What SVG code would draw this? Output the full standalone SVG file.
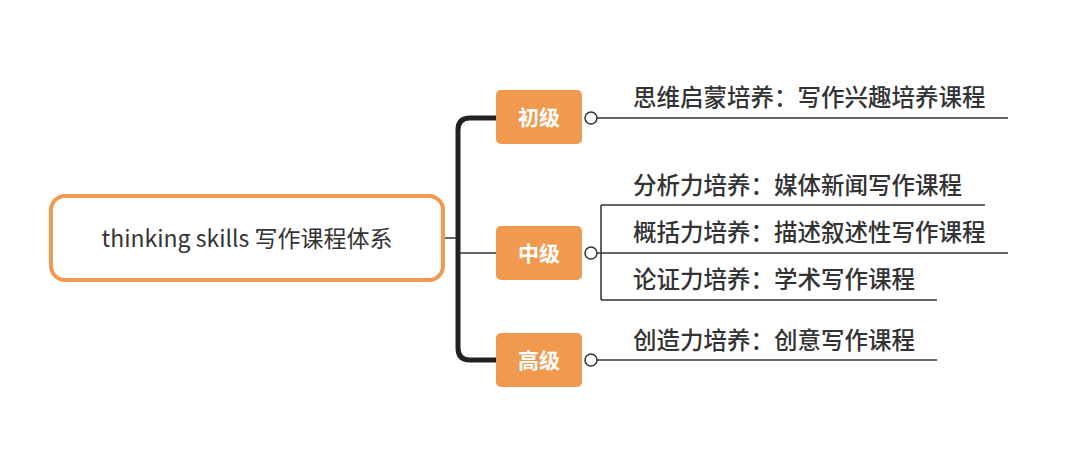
<svg xmlns="http://www.w3.org/2000/svg" width="1080" height="454" viewBox="0 0 1080 454">
<style>
.lv{fill:#ef9a4f}
.lt{font-family:"Noto Sans CJK SC",sans-serif;font-size:21px;font-weight:bold;fill:#fff;text-anchor:middle}
.t{font-family:"Noto Sans CJK SC",sans-serif;font-size:23.5px;font-weight:500;fill:#333}
.ln{stroke:#333;stroke-width:1.5;fill:none}
.c{fill:#fff;stroke:#333;stroke-width:1.5}
</style>
<rect width="1080" height="454" fill="#fff"/>
<g id="connectors">
<path d="M445 238H458" class="ln"/>
<path d="M496 118H470Q458 118 458 130V348Q458 360 470 360H496" stroke="#222" stroke-width="5" fill="none"/>
<path d="M458 253H496" class="ln"/>
<path d="M597 118H1008" class="ln"/>
<path d="M597 253H1008M601 205V300M601 205H985M601 300H937" class="ln"/>
<path d="M597 360H937" class="ln"/>
</g>
<g id="root"><rect x="51" y="196" width="392" height="84" rx="14" fill="#fff" stroke="#ef9a4f" stroke-width="4"/>
<text x="247" y="247" font-family="'Noto Sans CJK SC',sans-serif" font-size="23" fill="#333" text-anchor="middle">thinking skills 写作课程体系</text></g>
<g id="n1"><rect class="lv" x="496" y="90" width="86" height="54" rx="5"/><text class="lt" x="539" y="125">初级</text><circle class="c" cx="591" cy="118" r="6"/></g>
<g id="n2"><rect class="lv" x="496" y="226" width="86" height="54" rx="5"/><text class="lt" x="539" y="261">中级</text><circle class="c" cx="591" cy="253" r="6"/></g>
<g id="n3"><rect class="lv" x="496" y="333" width="86" height="54" rx="5"/><text class="lt" x="539" y="368">高级</text><circle class="c" cx="591" cy="360" r="6"/></g>
<g id="l1"><text class="t" x="633" y="106">思维启蒙培养：写作兴趣培养课程</text></g>
<g id="l2"><text class="t" x="633" y="194">分析力培养：媒体新闻写作课程</text></g>
<g id="l3"><text class="t" x="633" y="241">概括力培养：描述叙述性写作课程</text></g>
<g id="l4"><text class="t" x="633" y="288">论证力培养：学术写作课程</text></g>
<g id="l5"><text class="t" x="633" y="349">创造力培养：创意写作课程</text></g>
</svg>
